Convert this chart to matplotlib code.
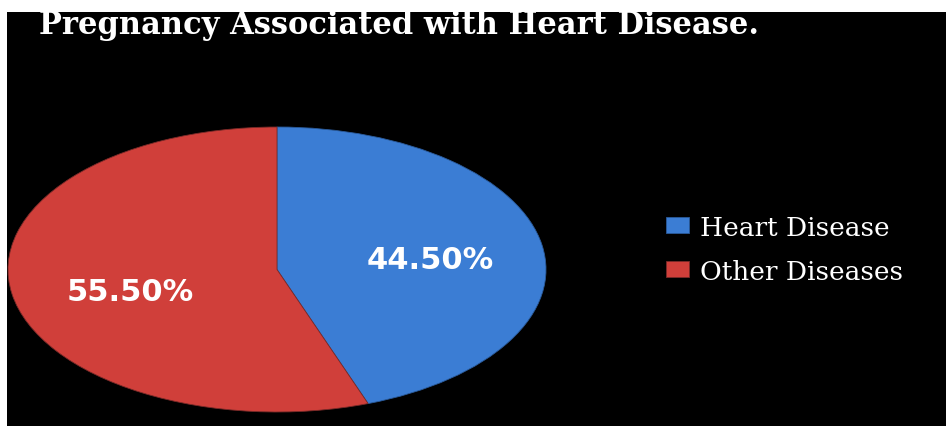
import matplotlib
matplotlib.use("Agg")
import matplotlib.pyplot as plt
from matplotlib.patches import Rectangle

# data
labels = ['Heart Disease', 'Other Diseases']
values = [44.5, 55.5]
colors = ['#3b7dd4', '#d03f3a']
title = 'Pregnancy Associated with Heart Disease.'

W, H = 946, 427
fig = plt.figure(figsize=(W / 100, H / 100), dpi=100, facecolor='black')

# white strips at top and left (screenshot border)
fig.patches.append(Rectangle((0, 1 - 13 / H), 1, 13 / H, transform=fig.transFigure,
                             facecolor='white', edgecolor='none', zorder=5))
fig.patches.append(Rectangle((0, 0), 7 / W, 1, transform=fig.transFigure,
                             facecolor='white', edgecolor='none', zorder=5))

# pie stretched into an ellipse
ax = fig.add_axes([8 / W, (H - 413) / H, 538 / W, 285 / H])
ax.set_facecolor('black')
wedges, _ = ax.pie(values, colors=colors, startangle=90, counterclock=False,
                   radius=1, wedgeprops=dict(linewidth=0.6, edgecolor='#7a2a28'))
wedges[0].set_edgecolor('#2a5a9a')
ax.set_aspect('auto')
ax.set_xlim(-1, 1)
ax.set_ylim(-1, 1)
ax.axis('off')

pct_pos = [(0.569, 0.067), (-0.546, -0.151)]
for (x, y), v in zip(pct_pos, values):
    ax.text(x, y, '%.2f%%' % v, color='white', fontsize=22, fontweight='bold',
            family='DejaVu Sans', ha='center', va='center')

fig.text(39 / W, 1 - 34 / H, title, color='white', fontsize=22, fontweight='bold',
         family='DejaVu Serif', ha='left', va='baseline', zorder=4)

leg = fig.legend(wedges, labels, loc='center left', bbox_to_anchor=(655 / W, 1 - 250 / H),
                 frameon=False, labelcolor='white',
                 prop=dict(family='DejaVu Serif', size=19),
                 handlelength=0.88, handleheight=0.53, handletextpad=0.42,
                 labelspacing=0.72, borderaxespad=0)

fig.savefig('out.png', dpi=100, facecolor='black')
